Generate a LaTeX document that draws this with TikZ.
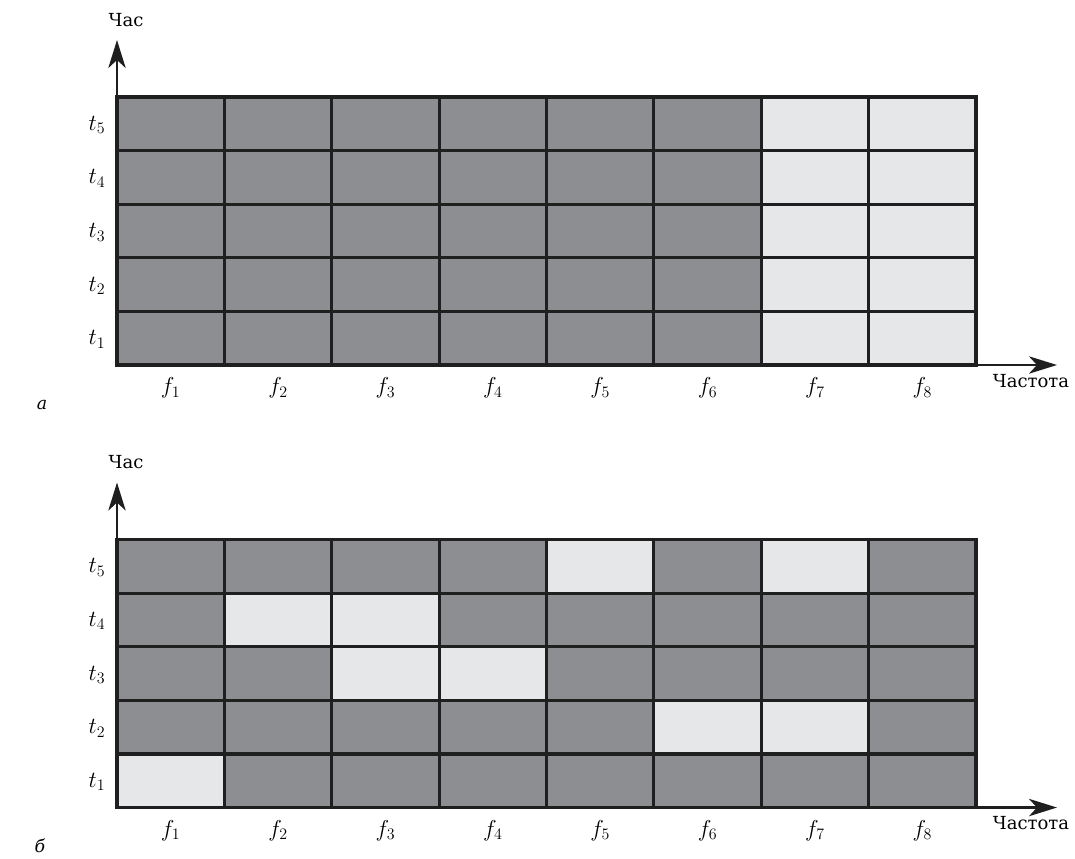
\documentclass[tikz,border=0pt]{standalone}
\usepackage{fontspec}
\setmainfont{DejaVu Serif}
\usetikzlibrary{arrows.meta}
\definecolor{cdark}{HTML}{8D8E92}
\definecolor{clight}{HTML}{E6E7E9}
\definecolor{cline}{HTML}{1F1F1F}
\newcommand\mypanel[2]{%
  \fill[cdark] (117,97) rectangle (976,365);
  \foreach \c/\r in {#1} \fill[clight] ({117+(\c-1)*107.375},{97+(5-\r)*53.6}) rectangle ++(107.375,53.6);
  \foreach \i in {0,...,8} \draw[gridline] ({117+\i*107.375},97) -- ++(0,268);
  \foreach \j in {0,...,5} \draw[gridline] (117,{97+\j*53.6}) -- (976,{97+\j*53.6});
  \coordinate (#2o) at (117,365);
  \coordinate (#2ytip) at (117,40);
  \coordinate (#2xtip) at (1057,365);
  \draw[axis] (#2o) -- (#2ytip);
  \draw[axis] (#2o) -- (#2xtip);
  \node[lab] (#2ylab) at (126,20) {Час};
  \node[lab] (#2xlab) at (1031,381) {Частота};
  \foreach \r in {1,...,5} \node[ml] (#2t\r) at (97,{97+(5-\r)*53.6+28}) {$t_{\r}$};
  \foreach \c in {1,...,8} \node[ml] (#2f\c) at ({117+(\c-0.5)*107.375},388) {$f_{\c}$};
}
\begin{document}
\begin{tikzpicture}[x=0.75pt,y=-0.75pt,
  gridline/.style={draw=cline,line width=2.4pt,line cap=rect},
  axis/.style={draw=cline,line width=1.9pt,-{Stealth[length=21pt,width=13pt,inset=6pt]}},
  lab/.style={font=\fontsize{13.5}{15}\selectfont,inner sep=0pt},
  ml/.style={font=\fontsize{17}{19}\selectfont,inner sep=0pt},
  tag/.style={font=\fontsize{13}{15}\selectfont\itshape,inner sep=0pt}]
\useasboundingbox (0,0) rectangle (1075,858);
\begin{scope}
  \mypanel{7/1,7/2,7/3,7/4,7/5,8/1,8/2,8/3,8/4,8/5}{a}
\end{scope}
\begin{scope}[yshift=-331.9pt]
  \mypanel{5/5,7/5,2/4,3/4,3/3,4/3,6/2,7/2,1/1}{b}
\end{scope}
\node[tag] (taga) at (42,405) {а};
\node[tag] (tagb) at (40,846) {б};
\end{tikzpicture}
\end{document}
